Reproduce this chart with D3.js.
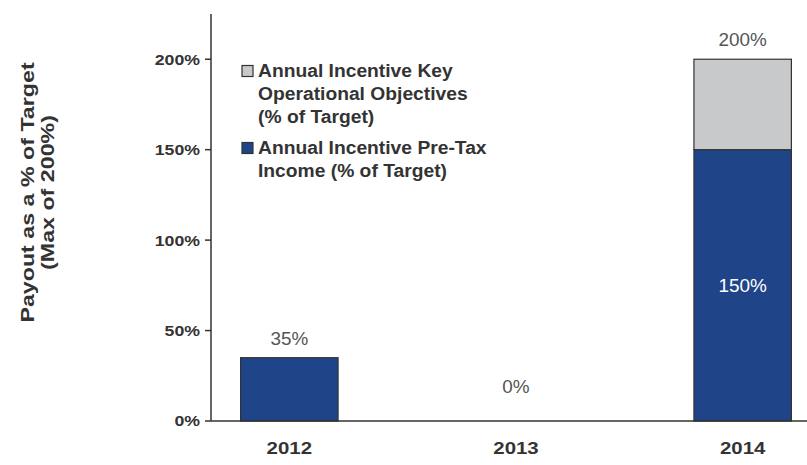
<!DOCTYPE html>
<html><head><meta charset="utf-8">
<script src="https://cdn.jsdelivr.net/npm/d3@7"></script>
<style>body{margin:0;background:#fff}svg{display:block}text{font-family:"Liberation Sans",Arial,sans-serif}</style>
</head><body><svg id="c" width="807" height="465"></svg>
<script>
const categories = ["2012","2013","2014"];
const pretax = [35, 0, 150];
const keyOps = [0, 0, 50];
const totalLabels = ["35%","0%","200%"];
const innerLabels = ["", "", "150%"];
const yTicks = [0, 50, 100, 150, 200];
const legendItems = [
  {lines:["Annual Incentive Key","Operational Objectives","(% of Target)"], color:"#c8c9cb"},
  {lines:["Annual Incentive Pre-Tax","Income (% of Target)"], color:"#1f4488"}
];

// widen text horizontally to mimic the reference's wide sans
function widen(sel, f){
  sel.each(function(){
    const len = this.getComputedTextLength();
    d3.select(this).attr("textLength", len*f).attr("lengthAdjust","spacingAndGlyphs");
  });
}

const svg = d3.select("#c");
const axisX = 211, yBase = 421;
const y = d3.scaleLinear().domain([0, 225]).range([yBase, 14]);
const x = d3.scaleBand().domain(categories).range([176, 856]).paddingInner(0.57).paddingOuter(0.285);

// y axis
svg.append("line").attr("x1",axisX).attr("x2",axisX).attr("y1",y(225)).attr("y2",yBase).attr("stroke","#333").attr("stroke-width",1.5);
const tg = svg.append("g");
yTicks.forEach(t=>{
  tg.append("line").attr("x1",axisX-6).attr("x2",axisX).attr("y1",y(t)).attr("y2",y(t)).attr("stroke","#333").attr("stroke-width",1.5);
  const tx = tg.append("text").attr("x",axisX-11).attr("y",y(t)).attr("dy","0.36em").attr("text-anchor","end")
    .attr("font-size",15).attr("font-weight","bold").attr("fill","#333").text(t+"%");
  widen(tx, 1.18);
});

// bars
const bars = svg.append("g");
categories.forEach((c,i)=>{
  if (pretax[i] > 0) bars.append("rect").attr("x",x(c)).attr("width",x.bandwidth())
    .attr("y",y(pretax[i])).attr("height",y(0)-y(pretax[i])).attr("fill","#1f4488").attr("stroke","#333").attr("stroke-width",1.2);
  if (keyOps[i] > 0) bars.append("rect").attr("x",x(c)).attr("width",x.bandwidth())
    .attr("y",y(pretax[i]+keyOps[i])).attr("height",y(pretax[i])-y(pretax[i]+keyOps[i])).attr("fill","#c8c9cb").attr("stroke","#333").attr("stroke-width",1.2);
  const tot = pretax[i]+keyOps[i];
  const ly = tot > 0 ? y(tot) - 13 : y(0) - 28;
  const vt = bars.append("text").attr("x",x(c)+x.bandwidth()/2).attr("y",ly).attr("text-anchor","middle")
    .attr("font-size",18).attr("fill","#555").text(totalLabels[i]);
  widen(vt, 1.05);
  if (innerLabels[i]) {
    const it = bars.append("text").attr("x",x(c)+x.bandwidth()/2).attr("y",y(pretax[i]/2)).attr("dy","0.36em")
      .attr("text-anchor","middle").attr("font-size",18).attr("fill","#fff").text(innerLabels[i]);
    widen(it, 1.05);
  }
});

// x axis
svg.append("line").attr("x1",axisX).attr("x2",807).attr("y1",yBase).attr("y2",yBase).attr("stroke","#333").attr("stroke-width",1.5);
categories.forEach(c=>{
  const t = svg.append("text").attr("x",x(c)+x.bandwidth()/2).attr("y",454).attr("text-anchor","middle")
    .attr("font-size",17).attr("font-weight","bold").attr("fill","#333").text(c);
  widen(t, 1.2);
});

// y title
const yt = svg.append("text").attr("transform","translate(0,192.5) rotate(-90)").attr("text-anchor","middle")
  .attr("font-size",18).attr("font-weight","bold").attr("fill","#333");
const t1 = yt.append("tspan").attr("x",0).attr("y",34).text("Payout as a % of Target");
const t2 = yt.append("tspan").attr("x",0).attr("y",54).text("(Max of 200%)");
[t1,t2].forEach(t=>{
  const len = t.node().getComputedTextLength();
  t.attr("textLength", len*1.29).attr("lengthAdjust","spacingAndGlyphs");
});

// legend
const leg = svg.append("g");
let ly0 = [71, 148];
legendItems.forEach((it,k)=>{
  leg.append("rect").attr("x",242).attr("y",ly0[k]-5.5).attr("width",11).attr("height",11)
    .attr("fill",it.color).attr("stroke","#333").attr("stroke-width",1.2);
  it.lines.forEach((l,j)=>{
    const t = leg.append("text").attr("x",258).attr("y",ly0[k]+j*23).attr("dy","0.36em")
      .attr("font-size",17.5).attr("font-weight","bold").attr("fill","#333").text(l);
    widen(t, 1.1);
  });
});
</script></body></html>
